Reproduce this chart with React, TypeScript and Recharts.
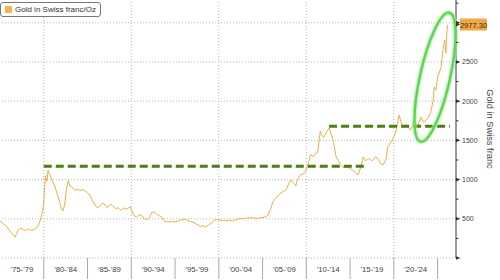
import React from 'react';
import {
  LineChart,
  Line,
  XAxis,
  YAxis,
  ReferenceLine,
  ReferenceDot,
  Legend,
} from 'recharts';

// gold priced in CHF per ounce (decimal year, value)
const years = [
  1975.0, 1975.3, 1975.6, 1975.9, 1976.2, 1976.5, 1976.7, 1976.9, 1977.1, 1977.3,
  1977.6, 1977.9, 1978.2, 1978.5, 1978.8, 1979.1, 1979.4, 1979.6, 1979.8, 1980.0,
  1980.1, 1980.2, 1980.35, 1980.5, 1980.7, 1980.9, 1981.2, 1981.5, 1981.8, 1982.0,
  1982.2, 1982.4, 1982.6, 1982.8, 1983.0, 1983.3, 1983.6, 1983.9, 1984.2, 1984.5,
  1984.8, 1985.0, 1985.3, 1985.5, 1985.8, 1986.1, 1986.4, 1986.7, 1987.0, 1987.3,
  1987.6, 1987.9, 1988.2, 1988.5, 1988.8, 1989.1, 1989.4, 1989.7, 1989.9, 1990.1,
  1990.3, 1990.6, 1990.9, 1991.2, 1991.5, 1991.8, 1992.1, 1992.3, 1992.6, 1992.9,
  1993.2, 1993.5, 1993.8, 1994.2, 1994.6, 1995.0, 1995.4, 1995.8, 1996.2, 1996.6,
  1997.0, 1997.3, 1997.6, 1997.9, 1998.2, 1998.5, 1998.8, 1999.1, 1999.4, 1999.7,
  2000.0, 2000.4, 2000.8, 2001.2, 2001.6, 2002.0, 2002.4, 2002.8, 2003.2, 2003.6,
  2004.0, 2004.4, 2004.8, 2005.2, 2005.6, 2005.9, 2006.2, 2006.5, 2006.8, 2007.1,
  2007.4, 2007.7, 2008.0, 2008.2, 2008.5, 2008.8, 2009.0, 2009.3, 2009.6, 2009.9,
  2010.2, 2010.5, 2010.8, 2011.0, 2011.3, 2011.6, 2011.8, 2012.0, 2012.3, 2012.6,
  2012.9, 2013.1, 2013.4, 2013.7, 2014.0, 2014.3, 2014.7, 2015.0, 2015.3, 2015.6,
  2015.9, 2016.2, 2016.5, 2016.8, 2017.1, 2017.5, 2017.9, 2018.2, 2018.5, 2018.8,
  2019.1, 2019.3, 2019.8, 2020.2, 2020.6, 2021.0, 2021.3, 2021.6, 2021.9, 2022.3,
  2022.75, 2023.1, 2023.4, 2023.9, 2024.2, 2024.5, 2024.6, 2024.8, 2025.0, 2025.4,
  2025.6, 2025.8, 2025.95, 2026.05, 2026.15,
];
const prices = [
  480, 440, 420, 380, 330, 300, 265, 310, 360, 380,
  365, 350, 370, 355, 360, 380, 420, 480, 560, 700,
  900, 1050, 980, 1120, 1060, 1000, 930, 830, 720, 640,
  600, 690, 880, 990, 920, 900, 860, 880, 860, 870,
  850, 830, 800, 740, 690, 640, 660, 700, 680, 640,
  690, 660, 630, 640, 610, 640, 620, 640, 650, 590,
  540, 520, 555, 540, 500, 490, 520, 575, 590, 560,
  540, 520, 470, 460, 465, 460, 475, 490, 495, 470,
  460, 440, 425, 405, 410, 395, 420, 440, 470, 490,
  485, 480, 475, 480, 470, 490, 505, 500, 510, 515,
  510, 505, 515, 520, 540, 620, 720, 760, 800, 830,
  850, 870, 950, 1000, 960, 920, 1000, 1060, 1070, 1100,
  1200, 1320, 1290, 1330, 1350, 1620, 1560, 1540, 1600, 1660,
  1560, 1470, 1290, 1230, 1180, 1150, 1160, 1140, 1120, 1090,
  1060, 1150, 1290, 1240, 1270, 1240, 1290, 1260, 1200, 1190,
  1260, 1414, 1503, 1592, 1822, 1656, 1700, 1669, 1630, 1732,
  1694, 1796, 1732, 1783, 1847, 2013, 2178, 2140, 2306, 2433,
  2650, 2777, 2611, 2866, 2977.3,
];

const periodEnds = [1980, 1985, 1990, 1995, 2000, 2005, 2010, 2015, 2020, 2025];
const decadeLines = [1980, 1990, 2000, 2010, 2020];
const gridValues = [500, 1000, 1500, 2000, 2500, 3000];
const yTicks = [0, 250, 500, 750, 1000, 1250, 1500, 1750, 2000, 2250, 2500, 2750, 2977.3, 3000, 3250];

// the two "resistance" levels drawn by hand on the original
const oldHigh = { from: 1980.0, to: 2016.8, level: 1170 };
const newHigh = { from: 2012.6, to: 2026.4, level: 1680 };
const circled = { t: 2024.7, v: 2306 };

const LAST = prices[prices.length - 1];
const data = years.map((t, i) => ({ t, v: prices[i] }));

const W = 500;
const H = 280;
const AXIS_W = 44;
const AXIS_H = 22;
const X_DOMAIN: [number, number] = [1975, 2027.1];
const PX_PER_YEAR = (W - AXIS_W) / (X_DOMAIN[1] - X_DOMAIN[0]);
const FONT = '"Liberation Sans", Arial, sans-serif';
const GOLD = '#ebb04a';
const OLIVE = '#4e7d14';
const GRID = '#b5b5b5';

const yy = (n: number) => String(n % 100).padStart(2, '0');

function PeriodTick({ x, y, payload }: any) {
  const end = payload.value;
  return (
    <g>
      <line x1={x} y1={y} x2={x} y2={y + 21} stroke="#a8a8a8" />
      <text
        x={x - 2.5 * PX_PER_YEAR}
        y={y + 14}
        textAnchor="middle"
        fontSize={7.8}
        fontFamily={FONT}
        fill="#444"
      >
        {`'${yy(end - 5)}-'${yy(end - 1)}`}
      </text>
    </g>
  );
}

function PriceTick({ x, y, payload }: any) {
  const v = payload.value;
  if (v === LAST) {
    return (
      <g>
        <path d={`M${x} ${y - 2}L${x + 4} ${y}L${x} ${y + 2}Z`} fill="#333" />
        <rect x={x + 4} y={y - 6} width={27} height={12} rx={1} fill="#f0a848" />
        <text x={x + 17.5} y={y + 3} textAnchor="middle" fontSize={7.5} fontFamily={FONT} fill="#3a2a10">
          {LAST.toFixed(2)}
        </text>
      </g>
    );
  }
  const major = v % 500 === 0;
  if (!major) {
    return <line x1={x} y1={y} x2={x + 2.5} y2={y} stroke="#333" />;
  }
  return (
    <g>
      <path d={`M${x} ${y - 1.8}L${x + 4.5} ${y}L${x} ${y + 1.8}Z`} fill="#333" />
      {v > 0 && v < 3000 && (
        <text x={x + 6} y={y + 2.5} fontSize={7} fontFamily={FONT} fill="#444">
          {v}
        </text>
      )}
    </g>
  );
}

function LegendBox() {
  return (
    <div
      style={{
        display: 'flex',
        alignItems: 'center',
        gap: 3,
        padding: '2px 4px',
        border: '1px solid #777',
        borderRadius: 3,
        background: '#fff',
        fontFamily: FONT,
        fontSize: 8,
        color: '#333',
        whiteSpace: 'nowrap',
      }}
    >
      <span style={{ width: 7, height: 7, background: '#f0b450', display: 'inline-block' }} />
      Gold in Swiss franc/Oz
    </div>
  );
}

function CircleMark({ cx, cy }: any) {
  return (
    <g transform={`rotate(12.6 ${cx} ${cy})`}>
      <ellipse cx={cx} cy={cy} rx={15} ry={66} fill="none" stroke="#a8eea0" strokeWidth={5} opacity={0.6} />
      <ellipse cx={cx} cy={cy} rx={15} ry={66} fill="none" stroke="#5ed452" strokeWidth={2.4} />
    </g>
  );
}

export default function App() {
  return (
    <div style={{ position: 'absolute', left: 0, top: 0, width: W, height: H, background: '#fff' }}>
      <LineChart width={W} height={H} data={data} margin={{ top: 0, right: 0, bottom: 0, left: 0 }}>
        <XAxis
          dataKey="t"
          type="number"
          domain={X_DOMAIN}
          allowDataOverflow
          ticks={periodEnds}
          interval={0}
          height={AXIS_H}
          axisLine={false}
          tickLine={false}
          tickSize={0}
          tickMargin={0}
          tick={<PeriodTick />}
        />
        <YAxis
          orientation="right"
          domain={[0, 3290]}
          allowDataOverflow
          ticks={yTicks}
          interval={0}
          width={AXIS_W}
          axisLine={{ stroke: '#333' }}
          tickLine={false}
          tickSize={0}
          tickMargin={0}
          tick={<PriceTick />}
          label={{
            value: 'Gold in Swiss franc',
            angle: 90,
            position: 'center',
            dx: 12,
            fontSize: 9.3,
            fontFamily: FONT,
            fill: '#444',
          }}
        />
        <Legend
          verticalAlign="middle"
          align="center"
          layout="horizontal"
          wrapperStyle={{ top: 2, left: 0, width: 'auto' }}
          content={() => <LegendBox />}
        />
        <ReferenceLine y={0} stroke={GRID} strokeDasharray="1 2" />
        {gridValues.map((g) => (
          <ReferenceLine key={g} y={g} stroke={GRID} strokeDasharray="1 2" />
        ))}
        {decadeLines.map((d) => (
          <ReferenceLine key={d} x={d} stroke={GRID} strokeDasharray="1 2" />
        ))}
        <Line
          type="linear"
          dataKey="v"
          stroke={GOLD}
          strokeWidth={1}
          dot={false}
          activeDot={false}
          isAnimationActive={false}
        />
        <ReferenceLine
          segment={[
            { x: oldHigh.from, y: oldHigh.level },
            { x: oldHigh.to, y: oldHigh.level },
          ]}
          stroke={OLIVE}
          strokeWidth={3}
          strokeDasharray="8 4"
        />
        <ReferenceLine
          segment={[
            { x: newHigh.from, y: newHigh.level },
            { x: newHigh.to, y: newHigh.level },
          ]}
          stroke={OLIVE}
          strokeWidth={3}
          strokeDasharray="8 4"
        />
        <ReferenceDot x={circled.t} y={circled.v} shape={<CircleMark />} />
      </LineChart>
    </div>
  );
}
